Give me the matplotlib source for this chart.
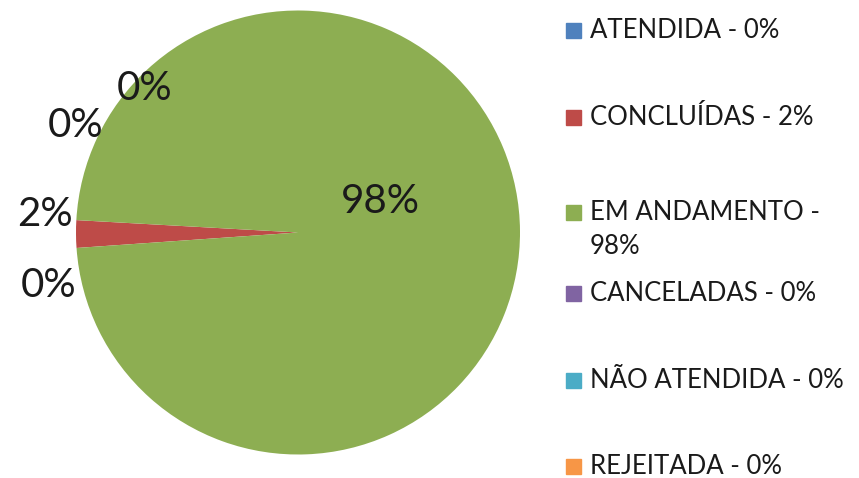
import matplotlib.pyplot as plt
from matplotlib.patches import Rectangle

plt.rcParams['font.family'] = ['Lato', 'DejaVu Sans']

categories = ['ATENDIDA', 'CONCLUÍDAS', 'EM ANDAMENTO', 'CANCELADAS', 'NÃO ATENDIDA', 'REJEITADA']
values = [0, 2, 98, 0, 0, 0]
legend_labels = ['ATENDIDA - 0%', 'CONCLUÍDAS - 2%', 'EM ANDAMENTO -\n98%',
                 'CANCELADAS - 0%', 'NÃO ATENDIDA - 0%', 'REJEITADA - 0%']
colors = ['#4F81BD', '#BE4B48', '#8DAE52', '#8064A2', '#4BACC6', '#F79646']

# label spots (pie radius = 1), Excel pushed the small ones apart
label_pos = [(-1.125, -0.24), (-1.14, 0.08), (0.37, 0.14), (-1.0, 0.48), (-0.69, 0.65), None]

fig = plt.figure(figsize=(8.59, 4.78), dpi=100)
ax = fig.add_axes([76 / 859, 23 / 478, 444 / 859, 445 / 478])
ax.pie(values, colors=colors, startangle=184, counterclock=False, radius=1,
       wedgeprops=dict(linewidth=0))
ax.set_xlim(-1, 1)
ax.set_ylim(-1, 1)
ax.set_aspect('equal')
ax.axis('off')

for v, pos in zip(values, label_pos):
    if pos is None:
        continue
    ax.text(pos[0], pos[1], f'{v}%', fontsize=29, ha='center', va='center',
            color='#1a1a1a', clip_on=False)

# legend drawn by hand to get Excel's spacing
row_y = [31, 118, 213, 294, 381, 467]
for lab, c, y in zip(legend_labels, colors, row_y):
    fy = 1 - y / 478
    fig.patches.append(Rectangle((566 / 859, fy - 7 / 478), 15 / 859, 15 / 478,
                                 transform=fig.transFigure, color=c))
    fig.text(590 / 859, fy + 13 / 478, lab, fontsize=18.5, va='top', ha='left',
             color='#1a1a1a', linespacing=1.45)

fig.savefig('out.png', dpi=100)
